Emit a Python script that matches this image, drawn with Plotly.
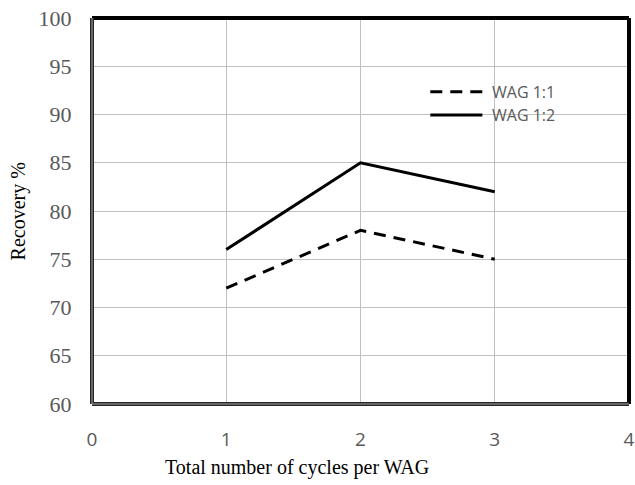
import plotly.graph_objects as go

cycles = [1, 2, 3]
wag_1_1 = [72, 78, 75]
wag_1_2 = [76, 85, 82]
series_names = ["WAG 1:1", "WAG 1:2"]
x_ticks = [0, 1, 2, 3, 4]
y_ticks = [60, 65, 70, 75, 80, 85, 90, 95, 100]

DASHED = dict(color="black", width=3, dash="12px,8px")
SOLID = dict(color="black", width=3)

fig = go.Figure()
fig.add_trace(go.Scatter(x=cycles, y=wag_1_1, mode="lines", name=series_names[0],
                         line=DASHED, showlegend=False))
fig.add_trace(go.Scatter(x=cycles, y=wag_1_2, mode="lines", name=series_names[1],
                         line=SOLID, showlegend=False))

fig.update_layout(
    width=635, height=485,
    margin=dict(l=92, r=6, t=18, b=81),
    paper_bgcolor="white", plot_bgcolor="white",
    xaxis=dict(range=[0, 4], tickvals=x_ticks, showgrid=True, gridcolor="#C0C0C0",
               gridwidth=1, zeroline=False, showline=False, automargin=False,
               ticks="outside", ticklen=18, tickcolor="rgba(0,0,0,0)",
               ticklabeloverflow="allow",
               tickfont=dict(family="Open Sans", size=19, color="#595959")),
    yaxis=dict(range=[60, 100], tickvals=y_ticks, showgrid=True, gridcolor="#C0C0C0",
               gridwidth=1, zeroline=False, showline=False, automargin=False,
               ticks="outside", ticklen=15, tickcolor="rgba(0,0,0,0)",
               tickfont=dict(family="Liberation Serif", size=22, color="#595959")),
    annotations=[
        dict(text="Total number of cycles per WAG", xref="paper", yref="paper",
             x=0.381, y=-0.165, xanchor="center", yanchor="middle", showarrow=False,
             font=dict(family="Liberation Serif", size=20, color="black")),
        dict(text="Recovery %", xref="paper", yref="paper", textangle=-90,
             x=-0.137, y=0.5, xanchor="center", yanchor="middle", showarrow=False,
             font=dict(family="Liberation Serif", size=20, color="black")),
    ],
)

# Legend box: white panel over the gridlines, line samples and labels
paper = dict(xref="paper", yref="paper")
fig.add_shape(type="rect", x0=0.604, x1=0.879, y0=0.711, y1=0.856,
              fillcolor="white", line=dict(width=0), layer="between", **paper)
leg_rows = [0.809, 0.749]
for name, style, yy in zip(series_names, [DASHED, SOLID], leg_rows):
    fig.add_shape(type="line", x0=0.630, x1=0.727, y0=yy, y1=yy,
                  line=style, layer="above", **paper)
    fig.add_annotation(text=name, x=0.742, y=yy, xanchor="left", yanchor="middle",
                       showarrow=False,
                       font=dict(family="Open Sans", size=16, color="#595959"), **paper)

# Frame: solid top/right edges, double-ruled left/bottom edges
frame = dict(type="line", layer="above", **paper)
fig.add_shape(x0=0, y0=1, x1=1, y1=1, line=dict(color="black", width=4), **frame)
fig.add_shape(x0=1, y0=0, x1=1, y1=1, line=dict(color="black", width=4), **frame)
fig.add_shape(x0=0, y0=0, x1=0, y1=1, line=dict(color="#262626", width=4), **frame)
fig.add_shape(x0=0, y0=0, x1=1, y1=0, line=dict(color="#262626", width=4), **frame)
fig.add_shape(x0=0, y0=0, x1=0, y1=1, line=dict(color="#A6A6A6", width=1), **frame)
fig.add_shape(x0=0, y0=0, x1=1, y1=0, line=dict(color="#A6A6A6", width=1), **frame)

fig.write_html("out.html")
